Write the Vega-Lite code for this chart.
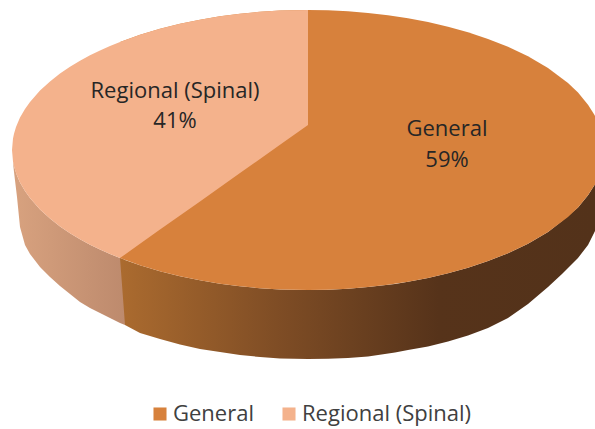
{
"$schema":"https://vega.github.io/schema/vega-lite/v6.json",
"width":595,"height":429,"padding":0,"autosize":"none","background":"white",
"config":{"view":{"stroke":null},"font":"Open Sans"},
"datasets":{
"regionalSide":[{"x":13,"y":161.5,"y2":163},{"x":14,"y":166.3,"y2":172},{"x":17,"y":175.6,"y2":197},{"x":20,"y":182.4,"y2":227},{"x":25,"y":191,"y2":245},{"x":30,"y":198.1,"y2":254},{"x":40,"y":209.4,"y2":267},{"x":50,"y":218.6,"y2":277},{"x":60,"y":226.4,"y2":286},{"x":70,"y":233.2,"y2":294},{"x":80,"y":239.3,"y2":302},{"x":90,"y":244.7,"y2":308},{"x":100,"y":249.6,"y2":313},{"x":110,"y":254,"y2":318},{"x":120,"y":258.1,"y2":323},{"x":125,"y":260,"y2":325}],
"generalSide":[{"x":120,"y":258.1,"y2":258.1},{"x":125,"y":260,"y2":325},{"x":140,"y":265.3,"y2":333},{"x":160,"y":271.2,"y2":339},{"x":180,"y":276.2,"y2":344.5},{"x":200,"y":280.3,"y2":349},{"x":220,"y":283.7,"y2":352},{"x":240,"y":286.3,"y2":355},{"x":260,"y":288.2,"y2":357},{"x":280,"y":289.4,"y2":358.5},{"x":308,"y":290,"y2":359},{"x":328,"y":289.7,"y2":358.7},{"x":348,"y":288.7,"y2":358},{"x":368,"y":287.1,"y2":356.5},{"x":395,"y":284,"y2":352.5},{"x":408,"y":281.8,"y2":350},{"x":428,"y":278,"y2":346.5},{"x":448,"y":273.3,"y2":341.5},{"x":468,"y":267.8,"y2":335.5},{"x":488,"y":261.1,"y2":328},{"x":508,"y":253.2,"y2":318},{"x":528,"y":243.7,"y2":304},{"x":548,"y":231.9,"y2":287},{"x":562,"y":221,"y2":274},{"x":578,"y":207.4,"y2":258},{"x":588,"y":195.3,"y2":245},{"x":595,"y":184.3,"y2":231}],
"faces":[
{"slice":"General","x":120,"y":41.9,"y2":258.1},{"slice":"General","x":140,"y":34.7,"y2":265.3},{"slice":"General","x":160,"y":28.8,"y2":271.2},{"slice":"General","x":180,"y":23.8,"y2":276.2},{"slice":"General","x":200,"y":19.7,"y2":280.3},{"slice":"General","x":220,"y":16.3,"y2":283.7},{"slice":"General","x":240,"y":13.7,"y2":286.3},{"slice":"General","x":260,"y":11.8,"y2":288.2},{"slice":"General","x":280,"y":10.6,"y2":289.4},{"slice":"General","x":308,"y":10,"y2":290},{"slice":"General","x":328,"y":10.3,"y2":289.7},{"slice":"General","x":348,"y":11.3,"y2":288.7},{"slice":"General","x":368,"y":12.9,"y2":287.1},{"slice":"General","x":388,"y":15.2,"y2":284.8},{"slice":"General","x":408,"y":18.2,"y2":281.8},{"slice":"General","x":428,"y":22,"y2":278},{"slice":"General","x":448,"y":26.7,"y2":273.3},{"slice":"General","x":468,"y":32.2,"y2":267.8},{"slice":"General","x":488,"y":38.9,"y2":261.1},{"slice":"General","x":508,"y":46.8,"y2":253.2},{"slice":"General","x":528,"y":56.3,"y2":243.7},{"slice":"General","x":548,"y":68.1,"y2":231.9},{"slice":"General","x":568,"y":83,"y2":217},{"slice":"General","x":578,"y":92.6,"y2":207.4},{"slice":"General","x":588,"y":104.7,"y2":195.3},{"slice":"General","x":595,"y":115.7,"y2":184.3},
{"slice":"Regional (Spinal)","x":12,"y":150,"y2":150},{"slice":"Regional (Spinal)","x":13,"y":138.5,"y2":161.5},{"slice":"Regional (Spinal)","x":14,"y":133.7,"y2":166.3},{"slice":"Regional (Spinal)","x":16,"y":127.1,"y2":172.9},{"slice":"Regional (Spinal)","x":20,"y":117.6,"y2":182.4},{"slice":"Regional (Spinal)","x":25,"y":109,"y2":191},{"slice":"Regional (Spinal)","x":30,"y":101.9,"y2":198.1},{"slice":"Regional (Spinal)","x":40,"y":90.6,"y2":209.4},{"slice":"Regional (Spinal)","x":50,"y":81.4,"y2":218.6},{"slice":"Regional (Spinal)","x":60,"y":73.6,"y2":226.4},{"slice":"Regional (Spinal)","x":70,"y":66.8,"y2":233.2},{"slice":"Regional (Spinal)","x":80,"y":60.7,"y2":239.3},{"slice":"Regional (Spinal)","x":90,"y":55.3,"y2":244.7},{"slice":"Regional (Spinal)","x":100,"y":50.4,"y2":249.6},{"slice":"Regional (Spinal)","x":110,"y":46,"y2":254},{"slice":"Regional (Spinal)","x":120,"y":41.9,"y2":258.1},{"slice":"Regional (Spinal)","x":140,"y":34.7,"y2":243.8},{"slice":"Regional (Spinal)","x":160,"y":28.8,"y2":229.6},{"slice":"Regional (Spinal)","x":180,"y":23.8,"y2":215.5},{"slice":"Regional (Spinal)","x":200,"y":19.7,"y2":201.4},{"slice":"Regional (Spinal)","x":220,"y":16.3,"y2":187.2},{"slice":"Regional (Spinal)","x":240,"y":13.7,"y2":173},{"slice":"Regional (Spinal)","x":260,"y":11.8,"y2":158.9},{"slice":"Regional (Spinal)","x":280,"y":10.6,"y2":144.8},{"slice":"Regional (Spinal)","x":308,"y":10,"y2":125}],
"labels":[{"x":175,"y":91,"text":"Regional (Spinal)"},{"x":175,"y":121,"text":"41%"},{"x":447,"y":129,"text":"General"},{"x":447,"y":160,"text":"59%"}]
},
"layer":[
{"data":{"name":"regionalSide"},"mark":{"type":"area","color":{"gradient":"linear","x1":0,"y1":0,"x2":1,"y2":0,"stops":[{"offset":0,"color":"#d8a27f"},{"offset":1,"color":"#bd8a6d"}]}},
"encoding":{"x":{"field":"x","type":"quantitative","scale":{"domain":[0,595],"nice":false,"zero":false},"axis":null},"y":{"field":"y","type":"quantitative","scale":{"domain":[0,429],"reverse":true,"nice":false,"zero":false},"axis":null},"y2":{"field":"y2"}}},
{"data":{"name":"generalSide"},"mark":{"type":"area","color":{"gradient":"linear","x1":0,"y1":0,"x2":1,"y2":0,"stops":[{"offset":0,"color":"#ab6b2f"},{"offset":0.33,"color":"#7f4d25"},{"offset":0.67,"color":"#56331a"},{"offset":1,"color":"#53321a"}]}},
"encoding":{"x":{"field":"x","type":"quantitative","axis":null},"y":{"field":"y","type":"quantitative","axis":null},"y2":{"field":"y2"}}},
{"data":{"name":"faces"},"mark":{"type":"area"},
"encoding":{"x":{"field":"x","type":"quantitative","axis":null},"y":{"field":"y","type":"quantitative","axis":null},"y2":{"field":"y2"},
"color":{"field":"slice","type":"nominal","sort":["General","Regional (Spinal)"],"scale":{"domain":["General","Regional (Spinal)"],"range":["#d7813c","#f4b28c"]},
"legend":{"title":null,"orient":"none","legendX":149,"legendY":403,"direction":"horizontal","symbolType":"square","symbolSize":170,"symbolStrokeWidth":0,"labelFont":"Open Sans","labelFontSize":22,"labelColor":"#404040","labelLimit":300,"columnPadding":24,"labelOffset":2}}}},
{"data":{"name":"labels"},"mark":{"type":"text","font":"Open Sans","fontSize":22,"color":"#262626","align":"center","baseline":"middle"},
"encoding":{"x":{"field":"x","type":"quantitative","axis":null},"y":{"field":"y","type":"quantitative","axis":null},"text":{"field":"text"}}}
]
}
